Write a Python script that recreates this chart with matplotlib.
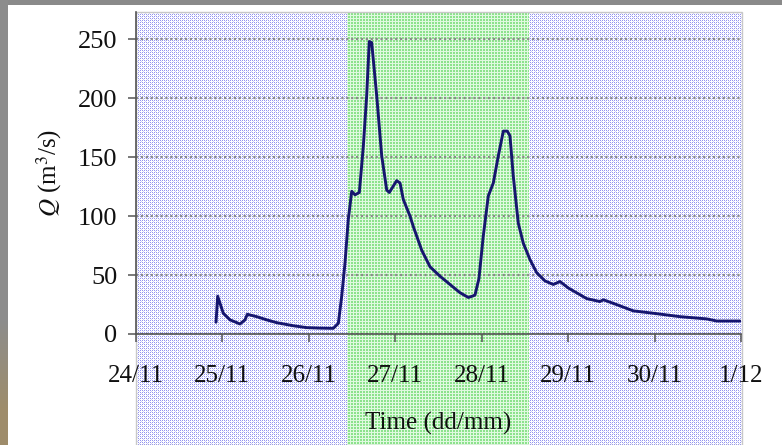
import numpy as np
import matplotlib

matplotlib.use("Agg")
import matplotlib.pyplot as plt
from matplotlib.patches import Rectangle

# discharge record, time in days since 24/11 00:00
days = [0.926, 0.945, 1.010, 1.088, 1.203, 1.261, 1.288, 1.397, 1.512, 1.628,
        1.820, 1.975, 2.129, 2.283, 2.341, 2.380, 2.418, 2.456, 2.496, 2.534,
        2.584, 2.630, 2.669, 2.699, 2.727, 2.785, 2.843, 2.901, 2.931, 3.016,
        3.055, 3.093, 3.170, 3.209, 3.306, 3.402, 3.517, 3.633, 3.749, 3.845,
        3.888, 3.922, 3.968, 4.018, 4.076, 4.134, 4.192, 4.250, 4.296, 4.327,
        4.365, 4.423, 4.481, 4.559, 4.636, 4.732, 4.828, 4.906, 5.002, 5.215,
        5.368, 5.407, 5.522, 5.754, 5.985, 6.294, 6.603, 6.719, 6.988]
flow = [10, 32, 17.6, 12, 8.5, 12, 16.7, 14.7, 12, 9.6,
        7, 5.4, 5, 4.8, 9, 32, 60, 97, 121, 118,
        120, 159, 202, 248, 247, 202, 151, 122, 120, 130,
        128, 114, 100, 91, 71, 57, 49, 42, 35, 31,
        32, 33, 47, 83, 117, 128, 151, 172, 172, 168,
        134, 94, 77, 63, 52, 45, 42, 44.5, 39, 30,
        27.5, 29, 26, 19.6, 17.6, 14.7, 12.8, 11, 11]

tick_days = [0, 1, 2, 3, 4, 5, 6, 7]
tick_labels = ["24/11", "25/11", "26/11", "27/11", "28/11", "29/11", "30/11", "1/12"]
y_ticks = [0, 50, 100, 150, 200, 250]

# highlighted flood window
window = (2.44, 4.55)

W, H = 782, 445
plt.rcParams["font.family"] = ["Liberation Serif", "DejaVu Serif"]
plt.rcParams["mathtext.fontset"] = "stix"

fig = plt.figure(figsize=(W / 100, H / 100), dpi=100)
fig.patch.set_facecolor("white")
ax = fig.add_axes([136 / W, (H - 334) / H, (741 - 136) / W, (334 - 12) / H])
ax.set_xlim(0, 7)
ax.set_ylim(0, 273)
ax.patch.set_visible(False)


def texture(tile, h, w):
    tile = np.asarray(tile, dtype=float)
    reps = (h // tile.shape[0] + 1, w // tile.shape[1] + 1, 1)
    return np.tile(tile, reps)[:h, :w]


B = (0.58, 0.58, 0.94)
L = (0.82, 0.82, 0.98)
Wt = (1.0, 1.0, 1.0)
blue_tile = [[B, Wt, B, Wt],
             [Wt, L, Wt, Wt],
             [B, Wt, B, Wt],
             [Wt, Wt, Wt, L]]
G = (0.55, 0.89, 0.55)
Gw = (0.88, 0.98, 0.88)
green_tile = [[Gw, Gw, Gw],
              [Gw, G, G],
              [Gw, G, G]]

top_px = H - 12
fig.figimage(texture(blue_tile, top_px, 742 - 136), xo=136, yo=0, zorder=-5)
gx0 = int(round(ax.transData.transform((window[0], 0))[0]))
gx1 = int(round(ax.transData.transform((window[1], 0))[0]))
fig.figimage(texture(green_tile, top_px, gx1 - gx0), xo=gx0, yo=0, zorder=-4)

# frame of the shaded panel
fig.patches.append(Rectangle((136, 0), 742 - 136, top_px, transform=None,
                             fill=False, edgecolor="#c8c8c8", linewidth=1.0, zorder=-3))

# grey border strips around the slide
fig.patches.append(Rectangle((0, H - 5), W, 5, transform=None,
                             facecolor="#8a8a8a", edgecolor="none", zorder=-6))
strip = np.linspace(0, 1, H)[:, None, None]
grey = np.array([0.55, 0.55, 0.55])
tan = np.array([0.62, 0.55, 0.42])
mix = np.clip((strip - 0.72) / 0.2, 0, 1)
fig.figimage(np.repeat(grey * (1 - mix) + tan * mix, 8, axis=1), xo=0, yo=0, zorder=-6)

ax.plot(days, flow, color="#16166e", linewidth=2.1, solid_joinstyle="round",
        solid_capstyle="round", zorder=3)

ax.set_yticks(y_ticks)
ax.set_xticks(tick_days, tick_labels)
ax.yaxis.grid(True, linestyle=(0, (1, 1.2)), color="#8c8c8c", linewidth=1.6)
ax.set_axisbelow(True)
for side in ("top", "right"):
    ax.spines[side].set_visible(False)
for side in ("left", "bottom"):
    ax.spines[side].set_color("#555555")
    ax.spines[side].set_linewidth(1.2)
ax.tick_params(axis="both", direction="out", length=5.5, width=1.1, color="#555555",
               labelcolor="#111111")
ax.tick_params(axis="y", pad=8, labelsize=19)
ax.tick_params(axis="x", pad=17, labelsize=18)

ax.set_xlabel("Time (dd/mm)", fontsize=18, labelpad=18, color="#111111")
ax.set_ylabel(r"$Q$ (m$^3$/s)", fontsize=18, labelpad=10, color="#111111")

fig.savefig("out.png", dpi=100)
